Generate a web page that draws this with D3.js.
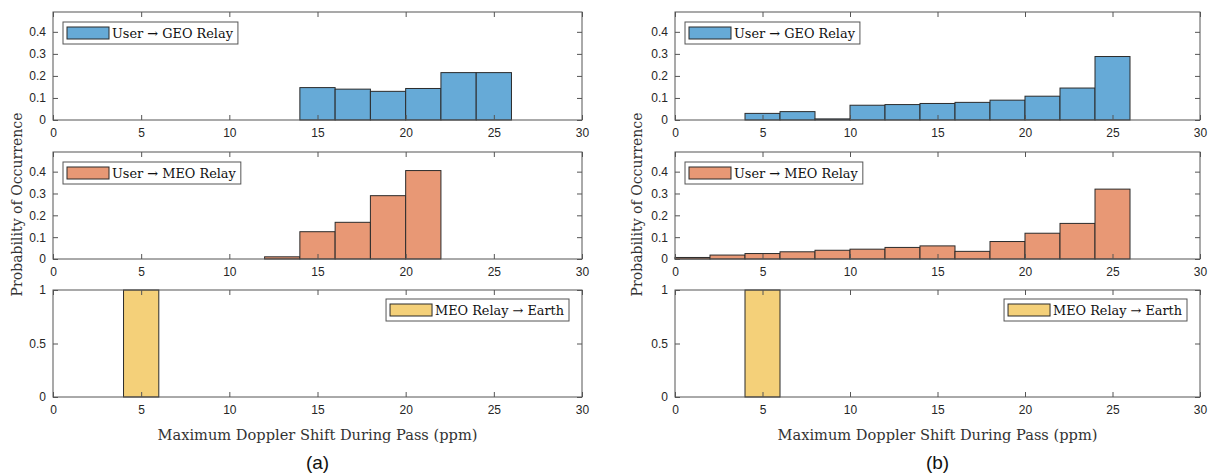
<!DOCTYPE html>
<html><head><meta charset="utf-8">
<script src="https://cdn.jsdelivr.net/npm/d3@7"></script>
<style>body{margin:0;background:#fff}svg{display:block}</style>
</head><body>
<script>
// ---- data ----
const binEdgesStep = 2;
const geoA_start = [14,16,18,20,22,24];
const geoA_vals  = [0.147,0.140,0.130,0.143,0.215,0.215];
const meoA_start = [12,14,16,18,20];
const meoA_vals  = [0.010,0.125,0.168,0.290,0.405];
const earthA_start = [4];
const earthA_vals  = [1];
const geoB_start = [4,6,8,10,12,14,16,18,20,22,24];
const geoB_vals  = [0.030,0.038,0.005,0.067,0.070,0.075,0.080,0.090,0.108,0.145,0.288];
const meoB_start = [0,2,4,6,8,10,12,14,16,18,20,22,24];
const meoB_vals  = [0.007,0.018,0.025,0.033,0.040,0.045,0.053,0.060,0.035,0.080,0.118,0.163,0.320];
const earthB_start = [4];
const earthB_vals  = [1];
const xTicks = [0,5,10,15,20,25,30];
const yTicksSmall = [0,0.1,0.2,0.3,0.4];
const yTicksBig = [0,0.5,1];
const legendLabels = ["User \u2192 GEO Relay","User \u2192 MEO Relay","MEO Relay \u2192 Earth"];
const colors = ["#66aad7","#e89875","#f4d079"];
const xLabel = "Maximum Doppler Shift During Pass (ppm)";
const yLabel = "Probability of Occurrence";
const subLabels = ["(a)","(b)"];

const W=1211,H=473;
const svg=d3.select("body").append("svg").attr("width",W).attr("height",H);

const cols=[{x0:53,x1:582,lab:subLabels[0],ylx:17,
  series:[[geoA_start,geoA_vals],[meoA_start,meoA_vals],[earthA_start,earthA_vals]]},
 {x0:675,x1:1200,lab:subLabels[1],ylx:637,
  series:[[geoB_start,geoB_vals],[meoB_start,meoB_vals],[earthB_start,earthB_vals]]}];
const rows=[{y0:12,y1:120,dom:[0,0.49],ticks:yTicksSmall,leg:"left"},
 {y0:152,y1:259,dom:[0,0.49],ticks:yTicksSmall,leg:"left"},
 {y0:290,y1:397,dom:[0,1],ticks:yTicksBig,leg:"right"}];

const axisCol="#262626", boxCol="#555";
const tickFont="'Liberation Sans', Arial, sans-serif";
const serif="'DejaVu Serif', serif";

// fit serif text to a target width (matching the reference's LaTeX text)
function fitText(sel, target){
  sel.style("font-size","20px");
  const w=sel.node().getComputedTextLength();
  sel.style("font-size",(20*target/w).toFixed(2)+"px");
}

cols.forEach(c=>{
  const x=d3.scaleLinear().domain([0,30]).range([c.x0,c.x1]);
  rows.forEach((r,ri)=>{
    const y=d3.scaleLinear().domain(r.dom).range([r.y1,r.y0]);
    const g=svg.append("g");
    const [st,vals]=c.series[ri];
    g.selectAll("rect.bar").data(st.map((s,i)=>({s,v:vals[i]}))).enter().append("rect")
      .attr("x",d=>x(d.s)).attr("width",d=>x(d.s+binEdgesStep)-x(d.s))
      .attr("y",d=>y(d.v)).attr("height",d=>y(0)-y(d.v))
      .attr("fill",colors[ri]).attr("stroke","#2b2b2b").attr("stroke-width",1);
    g.append("rect").attr("x",c.x0).attr("y",r.y0).attr("width",c.x1-c.x0).attr("height",r.y1-r.y0)
      .attr("fill","none").attr("stroke",boxCol).attr("stroke-width",1);
    const ax=d3.axisBottom(x).tickValues(xTicks).tickSize(-5).tickPadding(8).tickFormat(d3.format("d"));
    const axg=g.append("g").attr("transform",`translate(0,${r.y1})`).call(ax);
    const axt=g.append("g").attr("transform",`translate(0,${r.y0})`).call(d3.axisTop(x).tickValues(xTicks).tickSize(-5).tickFormat(""));
    const ay=d3.axisLeft(y).tickValues(r.ticks).tickSize(-5).tickPadding(7).tickFormat(d=>d===0?"0":(r.dom[1]>0.6?d3.format("")(d):d3.format(".1f")(d)));
    const ayg=g.append("g").attr("transform",`translate(${c.x0},0)`).call(ay);
    const ayr=g.append("g").attr("transform",`translate(${c.x1},0)`).call(d3.axisRight(y).tickValues(r.ticks).tickSize(-5).tickFormat(""));
    [axg,axt,ayg,ayr].forEach(a=>{a.select(".domain").remove();
      a.selectAll(".tick line").attr("stroke",boxCol);
      a.selectAll("text").attr("fill",axisCol).style("font-family",tickFont).style("font-size","12px");});
    // legend
    const lg=g.append("g");
    const txt=lg.append("text").text(legendLabels[ri]).style("font-family",serif).attr("fill","#111");
    fitText(txt, ri===2?129:(ri===1?124:121));
    const tw=txt.node().getComputedTextLength();
    const sw=42, sh=12;
    const bw=4+sw+3+tw+5, bh=22;
    const lx = r.leg==="left"? c.x0+10 : c.x1-13-bw;
    const ly = r.y0+ (r.leg==="left"?10:9);
    lg.insert("rect","text").attr("x",lx).attr("y",ly).attr("width",bw).attr("height",bh).attr("fill","#fff").attr("stroke",boxCol).attr("stroke-width",1);
    lg.append("rect").attr("x",lx+4).attr("y",ly+5).attr("width",sw).attr("height",sh).attr("fill",colors[ri]).attr("stroke","#2b2b2b");
    txt.attr("x",lx+4+sw+3).attr("y",ly+16);
  });
  const xl=svg.append("text").attr("x",(c.x0+c.x1)/2).attr("y",440).attr("text-anchor","middle")
    .style("font-family",serif).attr("fill","#333").text(xLabel);
  fitText(xl,320);
  const yl=svg.append("text").attr("transform",`translate(${c.ylx},${(rows[0].y0+rows[2].y1)/2}) rotate(-90)`)
    .attr("text-anchor","middle").attr("dy","0.35em").style("font-family",serif).attr("fill","#333").text(yLabel);
  fitText(yl,184);
  svg.append("text").attr("x",(c.x0+c.x1)/2).attr("y",469).attr("text-anchor","middle")
    .style("font-family",tickFont).style("font-size","19px").attr("fill","#111").text(c.lab);
});
</script>
</body></html>
